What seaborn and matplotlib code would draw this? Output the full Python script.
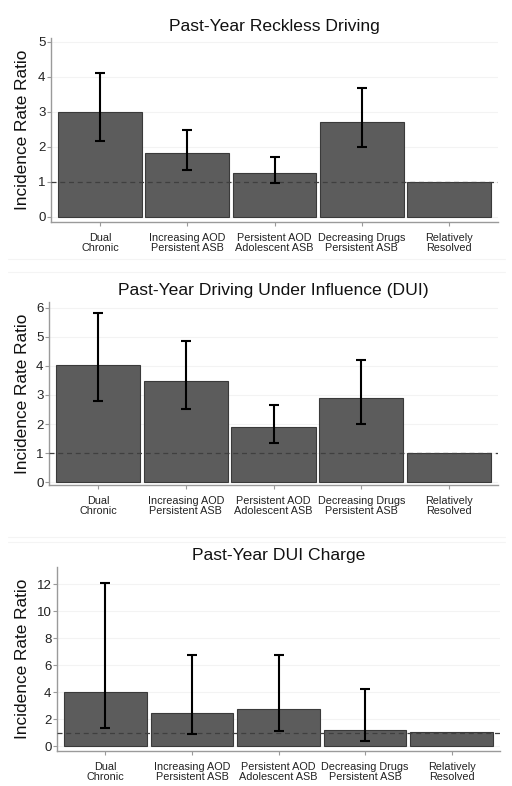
import numpy as np
import pandas as pd
import matplotlib
matplotlib.use("Agg")
import matplotlib.pyplot as plt
from matplotlib.lines import Line2D
import seaborn as sns

# trajectory groups (x axis)
groups = ["Dual\nChronic", "Increasing AOD\nPersistent ASB", "Persistent AOD\nAdolescent ASB",
          "Decreasing Drugs\nPersistent ASB", "Relatively\nResolved"]

# incidence rate ratios and 95% CIs
reckless_irr = [2.99, 1.82, 1.26, 2.71, 1.0]
reckless_lo = [2.16, 1.34, 0.96, 2.01, np.nan]
reckless_hi = [4.10, 2.47, 1.70, 3.67, np.nan]

dui_irr = [4.03, 3.48, 1.91, 2.91, 1.01]
dui_lo = [2.80, 2.50, 1.34, 2.01, np.nan]
dui_hi = [5.83, 4.86, 2.66, 4.21, np.nan]

charge_irr = [4.02, 2.45, 2.74, 1.17, 1.04]
charge_lo = [1.32, 0.87, 1.10, 0.35, np.nan]
charge_hi = [12.08, 6.74, 6.74, 4.19, np.nan]

titles = ["Past-Year Reckless Driving", "Past-Year Driving Under Influence (DUI)", "Past-Year DUI Charge"]
yticks = [range(0, 6), range(0, 7), range(0, 13, 2)]

sns.set_theme(style="white")
plt.rcParams["font.family"] = ["Liberation Sans", "DejaVu Sans"]

W, H = 512, 786
fig = plt.figure(figsize=(W / 100, H / 100), dpi=100)

# pixel boxes: left, right, top, bottom
boxes = [(51, 498, 38, 222), (49, 498, 302, 485), (57, 500, 567, 751)]
ylims = [(-0.143, 5.11), (-0.1, 6.2), (-0.37, 13.26)]
widths = [0.96, 0.96, 0.95]

panels = [(reckless_irr, reckless_lo, reckless_hi),
          (dui_irr, dui_lo, dui_hi),
          (charge_irr, charge_lo, charge_hi)]

for i, (irr, lo, hi) in enumerate(panels):
    l, r, t, b = boxes[i]
    ax = fig.add_axes([l / W, 1 - b / H, (r - l) / W, (b - t) / H])
    df = pd.DataFrame({"group": groups, "irr": irr, "lo": lo, "hi": hi})

    for y in yticks[i]:
        ax.axhline(y, color="#f3f3f3", lw=0.8, zorder=0)

    sns.barplot(data=df, x="group", y="irr", color="#5c5c5c", saturation=1,
                width=widths[i], edgecolor="#3a3a3a", linewidth=0.8,
                errorbar=None, ax=ax, zorder=2)
    ax.axhline(1, color="#3f3f3f", lw=0.9, ls=(0, (4, 3)), zorder=3)

    ci = df.dropna()
    ax.errorbar(ci.index, ci["irr"],
                yerr=[ci["irr"] - ci["lo"], ci["hi"] - ci["irr"]],
                fmt="none", ecolor="black", elinewidth=1.5, capsize=3.5,
                capthick=1.5, zorder=4)

    ax.set_xlim(-0.56, 4.56)
    ax.set_ylim(*ylims[i])
    ax.set_yticks(list(yticks[i]))
    ax.set_xlabel("")
    ax.set_ylabel("Incidence Rate Ratio", fontsize=12.4, color="#111111")
    ax.yaxis.set_label_coords((30 - l) / (r - l), 0.5)
    ax.set_title(titles[i], fontsize=12.6, pad=5, color="#111111")

    sns.despine(ax=ax)
    for s in ["left", "bottom"]:
        ax.spines[s].set_color("#9a9a9a")
        ax.spines[s].set_linewidth(1.0)
    ax.tick_params(axis="y", labelsize=9.5, length=3, width=0.8, color="#9a9a9a",
                   labelcolor="#222222", pad=1, left=True)
    ax.tick_params(axis="x", labelsize=7.8, length=3, width=0.8, color="#9a9a9a",
                   labelcolor="#222222", pad=5, bottom=True)
    for lab in ax.get_xticklabels():
        lab.set_linespacing(0.95)

# faint separators between panels
for yp in [259, 272, 537, 542]:
    fig.add_artist(Line2D([8 / W, 505 / W], [1 - yp / H, 1 - yp / H],
                          color="#f4f4f4", lw=0.8))

fig.savefig("out.png", dpi=100)
